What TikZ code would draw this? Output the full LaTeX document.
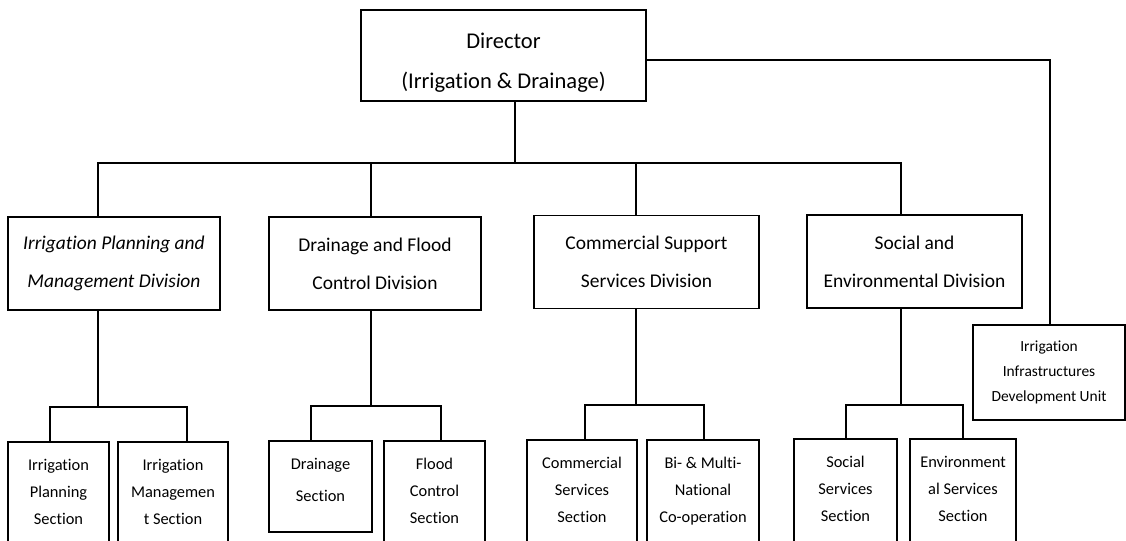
\documentclass[tikz,border=0pt]{standalone}
\usepackage{fontspec}
\setmainfont[Ligatures={TeX,NoCommon,NoContextual}]{Carlito}
% centred lines of text, shifted up by #1 without changing the box size
\newcommand\lines[2][0pt]{\raisebox{#1}[\height][\depth]{\begin{tabular}{@{}c@{}}#2\end{tabular}}}
\begin{document}
\begin{tikzpicture}[x=0.75pt,y=-0.75pt,
  line width=1pt,
  box/.style={draw=black, line width=1pt, inner sep=0pt, align=center},
  topbox/.style={box, minimum width=285*0.75pt, minimum height=91*0.75pt,
    font=\fontsize{16.9}{30}\selectfont},
  divbox/.style={box, minimum height=93*0.75pt,
    font=\fontsize{14.6}{28.5}\selectfont},
  secbox/.style={box, minimum height=110*0.75pt,
    font=\fontsize{12.3}{20.3}\selectfont},
  unitbox/.style={box, minimum width=152*0.75pt, minimum height=95*0.75pt,
    font=\fontsize{11.6}{18.8}\selectfont}
]
\useasboundingbox (0,0) rectangle (1126,540);
\clip (0,0) rectangle (1126,540);

% top level
\node[topbox] (dir) at (503.5,55.5) {\lines[-3.75pt]{Director\\(Irrigation \& Drainage)}};
\node[unitbox] (iidu) at (1049,372.5) {Irrigation\\Infrastructures\\Development Unit};

% divisions
\node[divbox, minimum width=212*0.75pt] (ipmd) at (114,263.5)
  {\itshape Irrigation Planning and\\\itshape Management Division};
\node[divbox, minimum width=212*0.75pt] (dfcd) at (375,263.5)
  {Drainage and Flood\\Control Division};
\node[divbox, minimum width=225*0.75pt] (cssd) at (646.5,262)
  {Commercial Support\\Services Division};
\node[divbox, minimum width=215*0.75pt] (sed) at (914.5,261.5)
  {Social and\\Environmental Division};

% sections (the lower ones run past the bottom edge)
\node[secbox, minimum width=101*0.75pt] (ips) at (58.5,497) {\lines[3.75pt]{Irrigation\\Planning\\Section}};
\node[secbox, minimum width=110*0.75pt] (ims) at (173,497) {\lines[3.75pt]{Irrigation\\Managemen\\t Section}};
\node[secbox, minimum width=103*0.75pt, minimum height=91*0.75pt] (ds) at (320.5,486.5)
  {\fontsize{12.3}{24}\selectfont\lines[5.6pt]{Drainage\\Section}};
\node[secbox, minimum width=101*0.75pt] (fcs) at (434.5,496) {\lines[3.75pt]{Flood\\Control\\Section}};
\node[secbox, minimum width=110*0.75pt] (css) at (582,495) {\lines[3.75pt]{Commercial\\Services\\Section}};
\node[secbox, minimum width=112*0.75pt] (bmn) at (703,495) {\lines[3.75pt]{Bi- \& Multi-\\National\\Co-operation}};
\node[secbox, minimum width=103*0.75pt] (sss) at (845.5,494) {\lines[3.75pt]{Social\\Services\\Section}};
\node[secbox, minimum width=106*0.75pt] (ess) at (963,494) {\lines[3.75pt]{Environment\\al Services\\Section}};

% junction points
\coordinate (bar) at (515,163);
\coordinate (j1) at (98,163);
\coordinate (j2) at (371,163);
\coordinate (j3) at (636,163);
\coordinate (j4) at (901,163);
\coordinate (k1) at (98,407);
\coordinate (k2) at (371,406);
\coordinate (k3) at (636,405);
\coordinate (k4) at (901,405);
\coordinate (side) at (1050,60);

% director to divisions
\draw (bar |- dir.south) -- (bar);
\draw (j1 |- ipmd.north) -- (j1) -- (j4) -- (j4 |- sed.north);
\draw (j2) -- (j2 |- dfcd.north);
\draw (j3) -- (j3 |- cssd.north);

% director to unit
\draw (dir.east |- side) -- (side) -- (side |- iidu.north);

% divisions to sections
\draw (j1 |- ipmd.south) -- (k1);
\draw (50,0 |- ips.north) |- (k1) -| (187,0 |- ims.north);
\draw (j2 |- dfcd.south) -- (k2);
\draw (311,0 |- ds.north) |- (k2) -| (441,0 |- fcs.north);
\draw (j3 |- cssd.south) -- (k3);
\draw (585,0 |- css.north) |- (k3) -| (704,0 |- bmn.north);
\draw (j4 |- sed.south) -- (k4);
\draw (846,0 |- sss.north) |- (k4) -| (963,0 |- ess.north);
\end{tikzpicture}
\end{document}
